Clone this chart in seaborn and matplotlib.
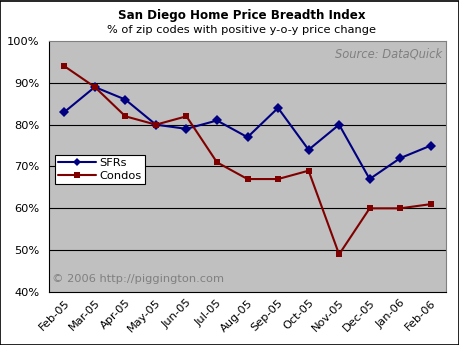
import matplotlib
matplotlib.use("Agg")
import matplotlib.pyplot as plt
import matplotlib.transforms as mtransforms
import seaborn as sns
import pandas as pd
from matplotlib.ticker import FixedLocator, PercentFormatter
from matplotlib.lines import Line2D

months = ["Feb-05", "Mar-05", "Apr-05", "May-05", "Jun-05", "Jul-05", "Aug-05",
          "Sep-05", "Oct-05", "Nov-05", "Dec-05", "Jan-06", "Feb-06"]
sfrs = [83, 89, 86, 80, 79, 81, 77, 84, 74, 80, 67, 72, 75]
condos = [94, 89, 82, 80, 82, 71, 67, 67, 69, 49, 60, 60, 61]

df = pd.DataFrame({
    "month": months * 2,
    "idx": list(range(len(months))) * 2,
    "value": sfrs + condos,
    "series": ["SFRs"] * len(months) + ["Condos"] * len(months),
})

sns.set_style("white")
plt.rcParams['font.family'] = ['DejaVu Sans']
plt.rcParams['text.color'] = 'black'
plt.rcParams['xtick.color'] = 'black'
plt.rcParams['ytick.color'] = 'black'
plt.rcParams['xtick.labelcolor'] = 'black'
plt.rcParams['ytick.labelcolor'] = 'black'

fig = plt.figure(figsize=(4.6, 3.45), dpi=100)
fig.patch.set_facecolor("white")
ax = fig.add_axes([49/460, 53/345, (446-49)/460, (292-41)/345])
ax.set_facecolor("#C0C0C0")

palette = {"SFRs": "#000080", "Condos": "#800000"}
markers = {"SFRs": "D", "Condos": "s"}
sns.lineplot(data=df, x="idx", y="value", hue="series", style="series",
             palette=palette, markers=markers, dashes=False, markersize=5,
             linewidth=1.5, ax=ax, legend=False, markeredgewidth=0)

ax.set_xlim(-0.5, len(months) - 0.5)
ax.set_ylim(40, 100)
ax.yaxis.set_major_locator(FixedLocator([40, 50, 60, 70, 80, 90, 100]))
ax.yaxis.set_major_formatter(PercentFormatter(decimals=0))
for y in [50, 60, 70, 80, 90]:
    ax.axhline(y, color="black", linewidth=0.8, zorder=0.5)

ax.set_xticks([i + 0.5 for i in range(-1, len(months))], minor=False)
ax.set_xticklabels([])
ax.set_xticks(range(len(months)), minor=True)
ax.set_xticklabels(months, minor=True, rotation=45, ha="right",
                   rotation_mode="anchor", fontsize=8.2, color="black")
offset = mtransforms.ScaledTranslation(-4/100, 0, fig.dpi_scale_trans)
for lbl in ax.get_xticklabels(minor=True):
    lbl.set_transform(lbl.get_transform() + offset)
ax.tick_params(axis="x", which="minor", length=0, pad=4)
ax.tick_params(axis="x", which="major", length=4, direction="out", width=0.8, color="black")
ax.tick_params(axis="y", length=4, direction="out", width=0.8, color="black", labelsize=8.2,
               pad=3, labelcolor="black")

ax.set_xlabel("")
ax.set_ylabel("")
for side in ["top", "right"]:
    ax.spines[side].set_color("#808080")
    ax.spines[side].set_linewidth(0.8)
for side in ["left", "bottom"]:
    ax.spines[side].set_color("black")
    ax.spines[side].set_linewidth(0.8)

handles = [Line2D([], [], color="#000080", marker="D", markersize=4, lw=1.5, markeredgewidth=0),
           Line2D([], [], color="#800000", marker="s", markersize=4, lw=1.5, markeredgewidth=0)]
leg = ax.legend(handles, ["SFRs", "Condos"], loc="upper left",
                bbox_to_anchor=(6/397, 1 - (155-41)/251), fontsize=8.2,
                frameon=True, fancybox=False, framealpha=1, edgecolor="black",
                handlelength=3.3, borderpad=0.3, labelspacing=0.22, handletextpad=0.3,
                borderaxespad=0)
leg.get_frame().set_linewidth(0.8)
for t in leg.get_texts():
    t.set_color("black")

ax.text(0.99, 0.975, "Source: DataQuick", transform=ax.transAxes, ha="right", va="top",
        fontsize=8.3, style="italic", color="#808080")
ax.text(0.008, 0.03, "© 2006 http://piggington.com", transform=ax.transAxes, ha="left", va="bottom",
        fontsize=8.2, color="#808080")

fig.text(242/460, 1 - 16/345, "San Diego Home Price Breadth Index", ha="center", va="center",
         fontsize=8.6, fontweight="bold", color="black")
fig.text(242/460, 1 - 30/345, "% of zip codes with positive y-o-y price change", ha="center", va="center",
         fontsize=8.2, color="black")

fig.patches.append(plt.Rectangle((0.001, 0.001), 0.997, 0.996, transform=fig.transFigure,
                                 fill=False, edgecolor="black", linewidth=1.2))

fig.savefig("out.png", dpi=100)
